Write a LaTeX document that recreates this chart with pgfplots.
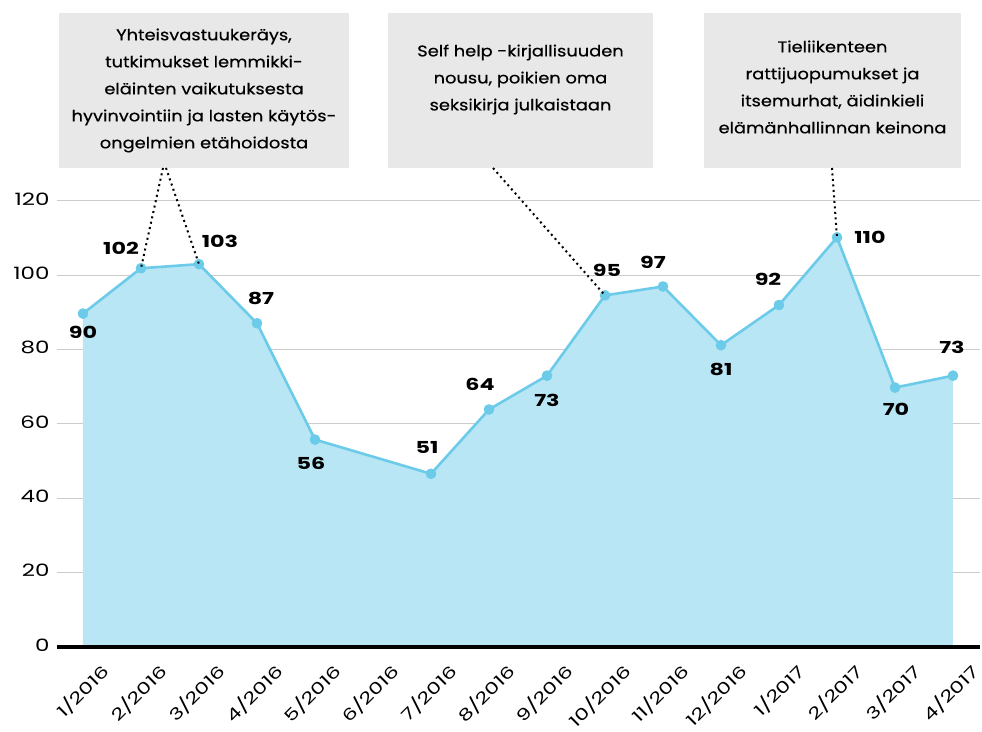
\documentclass[border=0pt]{standalone}
\usepackage{fontspec}
\setmainfont{Poppins}
\newfontfamily\numfont{Poppins}[FakeStretch=1.35]
\newfontfamily\boxfont{Poppins}[FakeStretch=1.15, FakeBold=0.5]
\usepackage{pgfplots}
\pgfplotsset{compat=1.18}
\definecolor{fillblue}{HTML}{B8E6F5}
\definecolor{lineblue}{HTML}{6CCBE8}
\definecolor{boxgray}{HTML}{E8E8E8}
\definecolor{gridgray}{HTML}{CCCCCC}
\newcommand{\lbl}{\numfont\fontsize{16.5}{16.5}\selectfont\bfseries}
\begin{document}
\begin{tikzpicture}[x=1pt,y=1pt]
\begin{axis}[
  at={(0,0)}, anchor=south west,
  scale only axis, width=923pt, height=483.2pt,
  xmin=-0.448, xmax=15.466, ymin=0, ymax=130,
  clip=false,
  axis line style={draw=none},
  tick style={draw=none},
  ytick={0,20,...,120},
  ymajorgrids,
  grid style={gridgray, line width=1pt},
  yticklabel style={/pgf/number format/assume math mode=true, font=\numfont\fontsize{17}{17}\selectfont, anchor=east, xshift=-4pt, yshift=2pt},
  xtick={0,...,15},
  xticklabels={1/2016,2/2016,3/2016,4/2016,5/2016,6/2016,7/2016,8/2016,9/2016,10/2016,11/2016,12/2016,1/2017,2/2017,3/2017,4/2017},
  xticklabel style={font=\numfont\fontsize{16.2}{16.2}\selectfont, xshift=25pt, yshift=-19pt, rotate=45, anchor=east},
]
\addplot[draw=none, fill=fillblue] coordinates {(0,89.7)(1,101.9)(2,103.0)(3,87.1)(4,55.8)(6,46.6)(7,63.9)(8,73.0)(9,94.6)(10,97.0)(11,81.2)(12,92.0)(13,110.2)(14,69.8)(15,73.0)} \closedcycle;
\addplot[lineblue, line width=2.6pt, line join=round, mark=*, mark size=4pt, mark options={fill=lineblue, draw=none}] coordinates {(0,89.7)(1,101.9)(2,103.0)(3,87.1)(4,55.8)(6,46.6)(7,63.9)(8,73.0)(9,94.6)(10,97.0)(11,81.2)(12,92.0)(13,110.2)(14,69.8)(15,73.0)};
\draw[line width=3.2pt] (rel axis cs:0,0) -- (rel axis cs:1,0);
\coordinate (p1) at (axis cs:1,101.9);
\coordinate (p2) at (axis cs:2,103.0);
\coordinate (p9) at (axis cs:9,94.6);
\coordinate (p13) at (axis cs:13,110.2);
\begin{scope}[every node/.style={font=\lbl, inner sep=0pt}]
\node at ([shift={(0pt,-19pt)}]axis cs:0,89.7) {90};
\node at ([shift={(-20pt,20pt)}]axis cs:1,101.9) {102};
\node at ([shift={(21pt,23pt)}]axis cs:2,103.0) {103};
\node at ([shift={(4pt,25pt)}]axis cs:3,87.1) {87};
\node at ([shift={(-4pt,-24pt)}]axis cs:4,55.8) {56};
\node at ([shift={(-4pt,26pt)}]axis cs:6,46.6) {51};
\node at ([shift={(-9pt,25pt)}]axis cs:7,63.9) {64};
\node at ([shift={(0pt,-25pt)}]axis cs:8,73.0) {73};
\node at ([shift={(2pt,25pt)}]axis cs:9,94.6) {95};
\node at ([shift={(-10pt,24pt)}]axis cs:10,97.0) {97};
\node at ([shift={(0pt,-24pt)}]axis cs:11,81.2) {81};
\node at ([shift={(-11pt,26pt)}]axis cs:12,92.0) {92};
\node at ([shift={(33pt,0pt)}]axis cs:13,110.2) {110};
\node at ([shift={(1pt,-22pt)}]axis cs:14,69.8) {70};
\node at ([shift={(-1pt,28pt)}]axis cs:15,73.0) {73};
\end{scope}
\end{axis}
% annotation boxes (1pt = 1px, origin at axis lower-left = px (57,647))
\fill[boxgray] (2,634) rectangle (292,479);
\fill[boxgray] (331,634) rectangle (596,479);
\fill[boxgray] (647,634) rectangle (904,479);
\begin{scope}[every node/.style={align=center, inner sep=0pt, font=\boxfont\fontsize{15.5}{27}\selectfont}]
\node at (147,556.5) {Yhteisvastuukeräys,\\tutkimukset lemmikki-\\eläinten vaikutuksesta\\hyvinvointiin ja lasten käytös-\\ongelmien etähoidosta};
\node at (463.5,567.5) {Self help -kirjallisuuden\\nousu, poikien oma\\seksikirja julkaistaan};
\node at (775.5,560) {Tieliikenteen\\rattijuopumukset ja\\itsemurhat, äidinkieli\\elämänhallinnan keinona};
\end{scope}
\begin{scope}[line width=2pt, dash pattern=on 2pt off 3.5pt]
\draw (106,479) -- (p1);
\draw (109,479) -- (p2);
\draw (436,479) -- (p9);
\draw (775,479) -- (p13);
\end{scope}
\pgfresetboundingbox
\path[use as bounding box] (-57,-84) rectangle (925,647);
\end{tikzpicture}
\end{document}
